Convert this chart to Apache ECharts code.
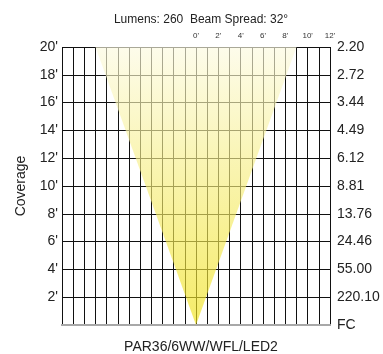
<!DOCTYPE html>
<html>
<head>
<meta charset="utf-8">
<script src="https://cdn.jsdelivr.net/npm/echarts@6/dist/echarts.min.js"></script>
<style>
  html, body { margin: 0; padding: 0; background: #fff; }
  #chart { width: 383px; height: 354px; }
</style>
</head>
<body>
<div id="chart"></div>
<script>
// Photometric coverage diagram: beam cone over a foot grid
const titleText = 'Lumens: 260  Beam Spread: 32\u00b0';
const fixtureName = 'PAR36/6WW/WFL/LED2';

// Coverage height (ft) and beam half-width (ft) along the cone edge
const beamHeights = [0, 20];
const beamHalfWidths = [0, 9];

// Footcandle readings at each 2' coverage line, starting at 0'
const fcLabels = ['FC', '220.10', '55.00', '24.46', '13.76', '8.81', '6.12', '4.49', '3.44', '2.72', '2.20'];

const FONT = 'Liberation Sans, Arial, Helvetica, sans-serif';
const chart = echarts.init(document.getElementById('chart'), null, { renderer: 'canvas' });

const option = {
  animation: false,
  backgroundColor: '#fff',
  title: [
    { text: titleText, left: 196, top: 9, textAlign: 'center',
      textStyle: { fontFamily: FONT, fontSize: 12, fontWeight: 'normal', color: '#222' } },
    { text: fixtureName, left: 196, top: 335, textAlign: 'center',
      textStyle: { fontFamily: FONT, fontSize: 14, fontWeight: 'normal', color: '#222' } }
  ],
  grid: { left: 62, right: 53, top: 47, bottom: 29 },
  xAxis: [
    {
      type: 'value', position: 'bottom', min: -12, max: 12, interval: 1,
      axisLine: { show: true, lineStyle: { color: '#9a9a9a', width: 2 } },
      axisTick: { show: false }, axisLabel: { show: false },
      splitLine: { show: true, lineStyle: { color: '#111', width: 1 } }
    },
    {
      type: 'value', position: 'top', min: -12, max: 12, interval: 1,
      axisLine: { show: true, lineStyle: { color: '#a8a8a8', width: 2 } },
      axisTick: { show: false }, splitLine: { show: false },
      axisLabel: {
        show: true, margin: 7, fontFamily: FONT, fontSize: 8, color: '#333',
        formatter: v => (v >= 0 && v % 2 === 0) ? v + "'" : ''
      }
    }
  ],
  yAxis: [
    {
      type: 'value', position: 'left', min: 0, max: 20, interval: 2,
      name: 'Coverage', nameLocation: 'middle', nameGap: 34, nameRotate: 90,
      nameTextStyle: { fontFamily: FONT, fontSize: 14, color: '#222' },
      axisLine: { show: false }, axisTick: { show: false },
      axisLabel: { margin: 4, fontFamily: FONT, fontSize: 14, color: '#222',
        formatter: v => v === 0 ? '' : v + "'" },
      splitLine: { show: true, lineStyle: { color: '#111', width: 1 } }
    },
    {
      type: 'value', position: 'right', min: 0, max: 20, interval: 2,
      axisLine: { show: false }, axisTick: { show: false },
      axisLabel: { margin: 7, fontFamily: FONT, fontSize: 14, color: '#222',
        formatter: v => fcLabels[Math.round(v / 2)] },
      splitLine: { show: false }
    }
  ],
  series: [
    {
      type: 'custom',
      xAxisIndex: 0, yAxisIndex: 0,
      data: [0],
      silent: true,
      renderItem: function (params, api) {
        const pts = [];
        for (let i = 0; i < beamHeights.length; i++) {
          pts.push(api.coord([-beamHalfWidths[i], beamHeights[i]]));
        }
        for (let i = beamHeights.length - 1; i >= 0; i--) {
          pts.push(api.coord([beamHalfWidths[i], beamHeights[i]]));
        }
        return {
          type: 'polygon',
          shape: { points: pts },
          style: {
            fill: new echarts.graphic.LinearGradient(0, 0, 0, 1, [
              { offset: 0, color: 'rgba(252,250,224,0.65)' },
              { offset: 0.45, color: 'rgba(246,238,131,0.65)' },
              { offset: 1, color: 'rgba(240,226,24,0.65)' }
            ]),
            stroke: null
          }
        };
      }
    }
  ]
};

chart.setOption(option);
</script>
</body>
</html>
